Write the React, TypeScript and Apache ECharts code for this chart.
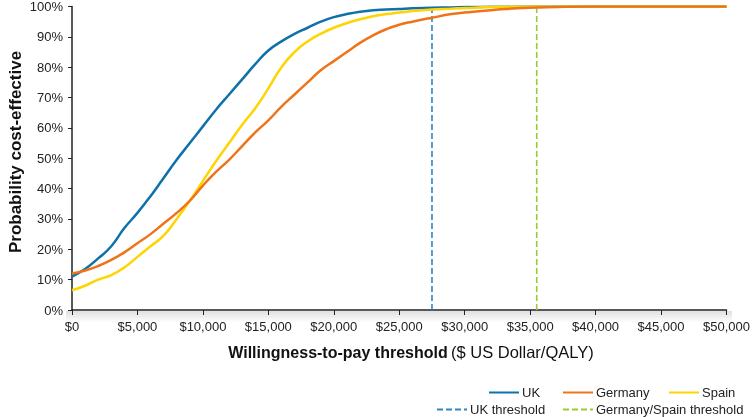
import React, { useEffect, useRef } from "react";
import * as echarts from "echarts";

const wtp = [0, 1000, 2000, 3000, 4000, 5000, 6000, 7000, 8000, 9000, 10000, 11000, 12000, 13000, 14000, 15000, 16000, 17000, 18000, 19000, 20000, 21000, 22000, 23000, 24000, 25000, 26000, 27500, 29000, 30000, 32000, 35500, 40000, 45000, 50000];
const ukValues = [11, 13.5, 17, 21, 27, 32, 37.5, 43.5, 49.5, 55, 60.5, 66, 71, 76, 81, 85.5, 88.5, 91, 93, 95, 96.5, 97.5, 98.3, 98.8, 99, 99.2, 99.4, 99.6, 99.7, 99.8, 99.9, 100, 100, 100, 100];
const germanyValues = [12, 13, 14.5, 16.5, 19, 22, 25, 28.5, 32, 36, 41, 45.5, 49.5, 54, 58.5, 62.5, 67, 71, 75, 79, 82, 85, 88, 90.5, 92.5, 94, 95, 96.3, 97.5, 98, 98.8, 99.7, 100, 100, 100];
const spainValues = [6.5, 8, 10, 11.5, 14, 17.5, 21, 24.5, 30, 36, 42.5, 49, 55, 61, 66.5, 73, 80, 85, 88.5, 91, 93, 94.5, 95.8, 96.8, 97.5, 98, 98.5, 99, 99.3, 99.5, 99.8, 100, 100, 100, 100];
const ukThreshold = 27500;
const germanySpainThreshold = 35500;
const yTicks = [0, 100];

const seriesNames = ["UK", "Germany", "Spain", "UK threshold", "Germany/Spain threshold"];

function pairs(vals: number[]) {
  return wtp.map((x, i) => [x, vals[i]]);
}

export default function App() {
  const ref = useRef<HTMLDivElement>(null);
  useEffect(() => {
    if (!ref.current) return;
    const chart = echarts.init(ref.current, null, { renderer: "svg" });
    const font = "Liberation Sans, Arial, Helvetica, sans-serif";
    const legendPos = [
      { name: "UK", left: 488, top: 386 },
      { name: "Germany", left: 562, top: 386 },
      { name: "Spain", left: 668, top: 386 },
      { name: "UK threshold", left: 436, top: 403 },
      { name: "Germany/Spain threshold", left: 562, top: 403 },
    ];
    chart.setOption({
      animation: false,
      grid: { left: 72, right: 24, top: 6, bottom: 107 },
      xAxis: {
        type: "value",
        min: 0,
        max: 50000,
        interval: 5000,
        axisLine: { lineStyle: { color: "#222", width: 1.5 } },
        axisTick: { show: true, length: 5, lineStyle: { color: "#222" } },
        splitLine: { show: false },
        axisLabel: {
          margin: 10,
          color: "#222",
          fontSize: 13,
          fontFamily: font,
          formatter: (v: number) => "$" + v.toLocaleString("en-US"),
        },
      },
      yAxis: {
        type: "value",
        min: yTicks[0],
        max: yTicks[1],
        interval: 10,
        axisLine: { show: true, lineStyle: { color: "#222", width: 1.5 } },
        axisTick: { show: true, length: 4, lineStyle: { color: "#222" } },
        splitLine: { show: false },
        axisLabel: {
          margin: 9,
          color: "#222",
          fontSize: 13,
          fontFamily: font,
          formatter: "{value}%",
        },
      },
      legend: legendPos.map((l) => ({
        data: [l.name],
        left: l.left,
        top: l.top,
        itemWidth: 30,
        itemHeight: 14,
        itemGap: 0,
        padding: 0,
        itemStyle: { opacity: 0, borderWidth: 0 },
        textStyle: { fontSize: 13, fontFamily: font, color: "#222", padding: [0, 0, 0, -2] },
      })),
      graphic: [
        {
          type: "rect",
          left: 66,
          top: 311,
          shape: { width: 666, height: 12 },
          silent: true,
          z: -1,
          style: {
            fill: new echarts.graphic.LinearGradient(0, 0, 0, 1, [
              { offset: 0, color: "rgba(0,0,0,0.12)" },
              { offset: 1, color: "rgba(0,0,0,0)" },
            ]),
          },
        },
        {
          type: "text",
          x: 15,
          y: 152,
          rotation: Math.PI / 2,
          style: {
            text: "Probability cost-effective",
            fontSize: 17,
            fontWeight: "bold",
            fontFamily: font,
            fill: "#111",
            align: "center",
            verticalAlign: "middle",
          },
        },
        {
          type: "text",
          x: 411,
          y: 352,
          style: {
            text: "{b|Willingness-to-pay threshold} {n|($ US Dollar/QALY)}",
            align: "center",
            verticalAlign: "middle",
            rich: {
              b: { fontSize: 16, fontWeight: "bold", fontFamily: font, fill: "#111" },
              n: { fontSize: 16.5, fontFamily: font, fill: "#111" },
            },
          },
        },
      ],
      series: [
        {
          name: seriesNames[3],
          type: "line",
          symbol: "none",
          data: [[ukThreshold, 0], [ukThreshold, 100]],
          lineStyle: { color: "#2b86c5", width: 1.6, type: [6, 3] },
          itemStyle: { color: "#2b86c5" },
          z: 1,
        },
        {
          name: seriesNames[4],
          type: "line",
          symbol: "none",
          data: [[germanySpainThreshold, 0], [germanySpainThreshold, 100]],
          lineStyle: { color: "#9acb34", width: 1.6, type: [6, 3] },
          itemStyle: { color: "#9acb34" },
          z: 1,
        },
        {
          name: seriesNames[0],
          type: "line",
          symbol: "none",
          smooth: true,
          data: pairs(ukValues),
          lineStyle: { color: "#0f71aa", width: 2.5 },
          itemStyle: { color: "#0f71aa" },
          z: 2,
        },
        {
          name: seriesNames[2],
          type: "line",
          symbol: "none",
          smooth: true,
          data: pairs(spainValues),
          lineStyle: { color: "#ffd400", width: 2.5 },
          itemStyle: { color: "#ffd400" },
          z: 2,
        },
        {
          name: seriesNames[1],
          type: "line",
          symbol: "none",
          smooth: true,
          data: pairs(germanyValues),
          lineStyle: { color: "#ef7419", width: 2.5 },
          itemStyle: { color: "#ef7419" },
          z: 2,
        },
      ],
    });
    return () => chart.dispose();
  }, []);
  return <div ref={ref} style={{ position: "fixed", left: 0, top: 0, width: 753, height: 417 }} />;
}
